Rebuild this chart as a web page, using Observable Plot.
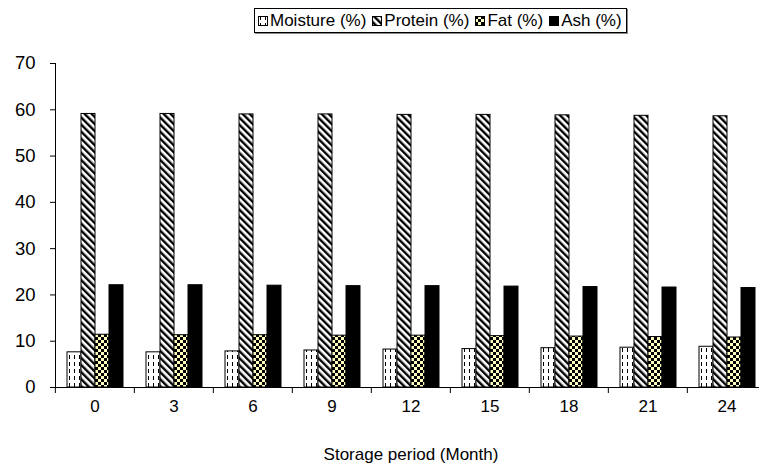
<!DOCTYPE html>
<html>
<head>
<meta charset="utf-8">
<script src="https://cdn.jsdelivr.net/npm/d3@7"></script>
<script src="https://cdn.jsdelivr.net/npm/@observablehq/plot@0.6"></script>
<style>
  html, body { margin: 0; padding: 0; background: #fff; overflow: hidden; }
  body { width: 759px; height: 466px; font-family: "Liberation Sans", Arial, sans-serif; }
  #legendwrap { position: relative; height: 40px; }
  #legend { position: absolute; left: 254px; top: 8px; height: 23px; padding: 0 4px 0 3px;
    border: 1px solid #000; box-shadow: 1px 1px 0 #888; display: flex; align-items: center;
    font-size: 17px; color: #000; white-space: nowrap; }
  #legend .item { display: flex; align-items: center; margin-right: 6px; }
  #legend .item:last-child { margin-right: 0; }
  #legend svg { margin-right: 2px; }
</style>
</head>
<body>
<svg width="0" height="0" style="position:absolute">
  <defs>
    <pattern id="pMoist" patternUnits="userSpaceOnUse" width="5" height="7">
      <rect width="5" height="7" fill="#fff"/>
      <line x1="2.5" y1="0" x2="2.5" y2="4" stroke="#000" stroke-width="1"/>
    </pattern>
    <pattern id="pProt" patternUnits="userSpaceOnUse" width="5" height="10" patternTransform="rotate(-45)">
      <rect width="5" height="10" fill="#fff"/>
      <rect width="2.4" height="10" fill="#000"/>
    </pattern>
    <pattern id="pFat" patternUnits="userSpaceOnUse" width="6" height="6">
      <rect width="6" height="6" fill="#ffffc0"/>
      <rect width="3" height="3" fill="#000"/>
      <rect x="3" y="3" width="3" height="3" fill="#000"/>
    </pattern>
  </defs>
</svg>
<div id="legendwrap"><div id="legend"></div></div>
<div id="chart"></div>
<script>
const months = [0, 3, 6, 9, 12, 15, 18, 21, 24];
const series = ["Moisture (%)", "Protein (%)", "Fat (%)", "Ash (%)"];
const moisture = [7.6, 7.6, 7.8, 8.0, 8.2, 8.3, 8.5, 8.6, 8.8];
const protein  = [59.1, 59.1, 59.0, 59.0, 58.9, 58.9, 58.8, 58.7, 58.6];
const fat      = [11.4, 11.3, 11.3, 11.2, 11.2, 11.1, 11.0, 10.9, 10.8];
const ash      = [22.1, 22.1, 22.0, 21.9, 21.9, 21.8, 21.7, 21.6, 21.5];
const yTicks = [0, 10, 20, 30, 40, 50, 60, 70];
const fills = ["url(#pMoist)", "url(#pProt)", "url(#pFat)", "#000"];

const valuesBySeries = [moisture, protein, fat, ash];
const data = months.flatMap((m, i) => series.map((s, j) => ({month: m, series: s, value: valuesBySeries[j][i]})));

// Legend
const legend = document.getElementById("legend");
series.forEach((s, j) => {
  const item = document.createElement("span");
  item.className = "item";
  item.innerHTML = `<svg width="10" height="10"><rect x="0.5" y="0.5" width="9" height="9" fill="${fills[j]}" stroke="#000" stroke-width="1"/></svg><span>${s}</span>`;
  legend.appendChild(item);
});

const width = 759, marginLeft = 53, marginRight = -8;
const step = (width - marginLeft - marginRight) / months.length;

const chart = Plot.plot({
  width, height: 426,
  marginLeft, marginRight, marginTop: 23, marginBottom: 79,
  style: {fontFamily: "Liberation Sans, Arial, sans-serif", fontSize: "17px", color: "#000", background: "#fff"},
  fx: {domain: months, padding: 0, axis: null},
  x: {domain: series, paddingInner: 0, paddingOuter: 0.68, axis: null},
  y: {domain: [0, 70], axis: null},
  color: {domain: series, range: fills},
  marks: [
    Plot.barY(data, {fx: "month", x: "series", y: "value", fill: "series", stroke: "#000", strokeWidth: 1}),
    Plot.ruleY([0], {stroke: "#000"}),
    Plot.frame({anchor: "left", facetAnchor: "left", stroke: "#000"}),
    Plot.axisY({ticks: yTicks, tickSize: 5, tickPadding: 15, label: null, fontSize: 18.5}),
    Plot.axisFx({anchor: "bottom", tickFormat: () => "", tickSize: 6, dx: -step / 2, label: null}),
    Plot.axisFx({anchor: "bottom", tickSize: 0, tickPadding: 12, fontSize: 17, label: "Storage period (Month)", labelAnchor: "center", labelOffset: 72, labelArrow: "none"})
  ]
});
document.getElementById("chart").appendChild(chart);
</script>
</body>
</html>
